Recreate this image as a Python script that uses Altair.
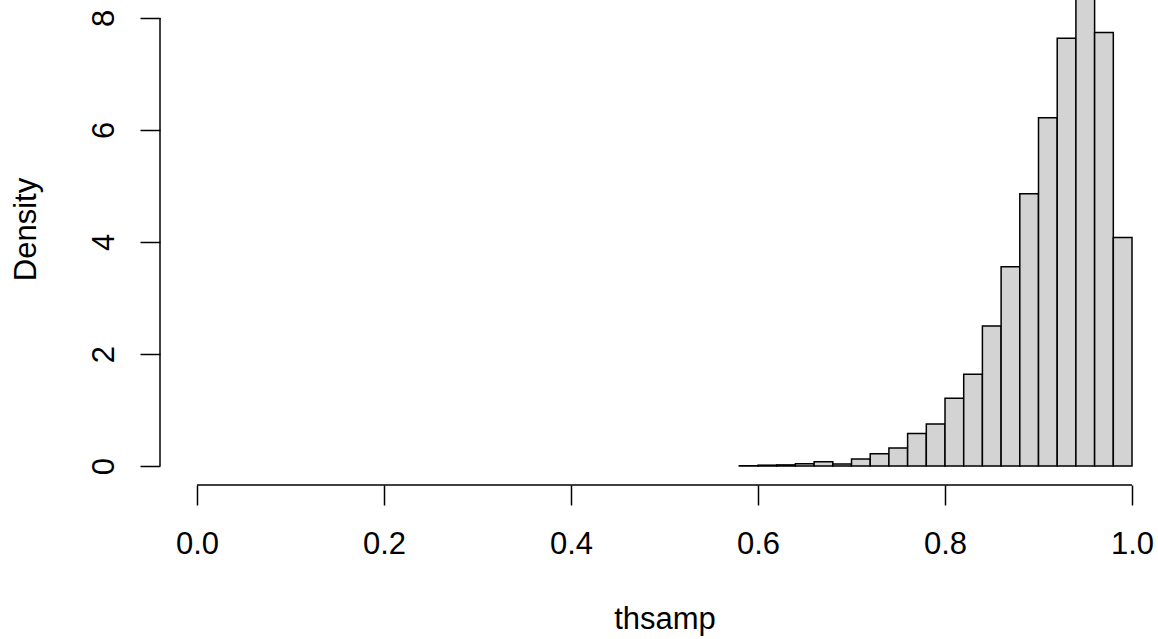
import altair as alt
import pandas as pd

# Histogram of thsamp on the density scale (bin width 0.02)
bin_left = [0.58, 0.60, 0.62, 0.64, 0.66, 0.68, 0.70, 0.72, 0.74, 0.76, 0.78,
            0.80, 0.82, 0.84, 0.86, 0.88, 0.90, 0.92, 0.94, 0.96, 0.98]
bin_right = [0.60, 0.62, 0.64, 0.66, 0.68, 0.70, 0.72, 0.74, 0.76, 0.78, 0.80,
             0.82, 0.84, 0.86, 0.88, 0.90, 0.92, 0.94, 0.96, 0.98, 1.00]
density = [0.005, 0.015, 0.02, 0.042, 0.077, 0.035, 0.125, 0.22, 0.32, 0.58, 0.75,
           1.21, 1.64, 2.50, 3.56, 4.86, 6.22, 7.64, 8.40, 7.74, 4.08]

x_ticks = [0.0, 0.2, 0.4, 0.6, 0.8, 1.0]
y_ticks = [0, 2, 4, 6, 8]

FONT = "Liberation Sans"
FS = 31
W, H = 998, 485

hist = pd.DataFrame({"left": bin_left, "right": bin_right, "density": density})

xs = alt.Scale(domain=[-0.0396, 1.0278], nice=False, zero=False)
ys = alt.Scale(domain=[-0.339, 8.321], nice=False, zero=False)

x_axis = alt.Axis(
    values=x_ticks, format=".1f", domain=False, grid=False,
    tickSize=20, tickWidth=1.5, tickColor="black",
    labelFont=FONT, labelFontSize=FS, labelColor="black",
    labelBaseline="alphabetic", labelPadding=48,
    labelFlush=False, labelOverlap=False,
    title="thsamp", titleFont=FONT, titleFontSize=FS, titleFontWeight="normal",
    titleColor="black", titleX=504.5, titleY=143,
    titleAlign="center", titleBaseline="alphabetic",
)
y_axis = alt.Axis(
    values=y_ticks, format="d", domain=False, grid=False,
    tickSize=20, tickWidth=1.5, tickColor="black",
    labelFont=FONT, labelFontSize=FS, labelColor="black",
    labelAngle=270, labelAlign="center", labelBaseline="alphabetic",
    labelPadding=27, labelFlush=False, labelOverlap=False,
    title="Density", titleFont=FONT, titleFontSize=FS, titleFontWeight="normal",
    titleColor="black", titleAngle=270, titleX=-125, titleY=229,
    titleAlign="center", titleBaseline="alphabetic",
)

bars = alt.Chart(hist).mark_rect(
    fill="#D3D3D3", stroke="black", strokeWidth=1.5, clip=True
).encode(
    x=alt.X("left:Q", scale=xs, axis=x_axis),
    x2="right:Q",
    y=alt.Y("density:Q", scale=ys, axis=y_axis),
    y2=alt.datum(0),
)

# Axis lines spanning only the tick range, as in base R graphics
x_line = alt.Chart(pd.DataFrame({"left": [0.0], "right": [1.0]})).mark_rule(
    color="black", strokeWidth=1.5
).encode(
    x=alt.X("left:Q", scale=xs, axis=x_axis),
    x2="right:Q",
    y=alt.value(H),
)
y_line = alt.Chart(pd.DataFrame({"density": [0.0], "top": [8.0]})).mark_rule(
    color="black", strokeWidth=1.5
).encode(
    y=alt.Y("density:Q", scale=ys, axis=y_axis),
    y2="top:Q",
    x=alt.value(0),
)

chart = alt.layer(bars, x_line, y_line).properties(
    width=W, height=H,
    autosize=alt.AutoSizeParams(type="none"),
    padding={"left": 160, "top": 0, "right": 0, "bottom": 154},
    background="white",
).configure_view(stroke=None)

chart.save("out.html", embed_options={"renderer": "svg", "actions": False})
